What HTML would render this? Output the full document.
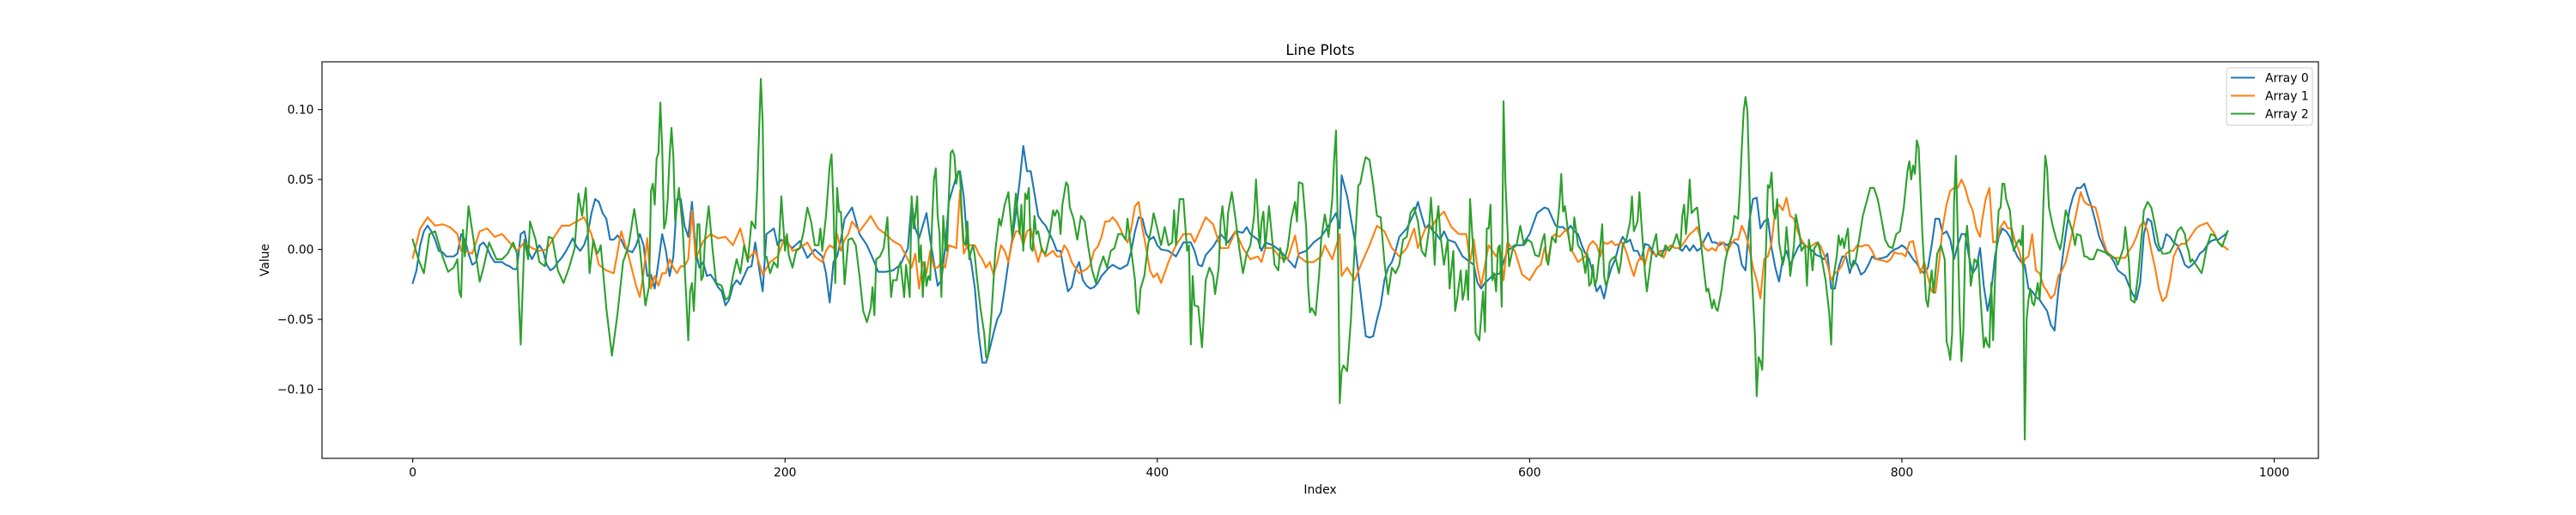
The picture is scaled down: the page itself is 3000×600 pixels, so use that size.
<!DOCTYPE html>
<html><head><meta charset="utf-8"><style>
html,body{margin:0;padding:0;background:#fff;}
svg{display:block;}
text{font-family:"DejaVu Sans","Liberation Sans",sans-serif;fill:#000;}
</style></head><body>
<svg id="chart" width="3000" height="600" viewBox="0 0 3000 600" xmlns="http://www.w3.org/2000/svg">
<rect x="0" y="0" width="3000" height="600" fill="#fff"/>
<text x="1537.5" y="64" font-size="16.7" text-anchor="middle">Line Plots</text>
<g id="series"></g>
<rect x="375" y="72" width="2325" height="462" fill="none" stroke="#000" stroke-width="1.1"/>
<g id="xticks"></g>
<g id="yticks"></g>
<text x="1537.5" y="575" font-size="13.9" text-anchor="middle">Index</text>
<text x="0" y="0" font-size="13.9" text-anchor="middle" transform="translate(313,303) rotate(-90)">Value</text>
<g id="legend">
<rect x="2593" y="79" width="100" height="67" rx="3" fill="#fff" fill-opacity="0.8" stroke="#ccc" stroke-width="1"/>
<line x1="2598" y1="90.5" x2="2626" y2="90.5" stroke="#1f77b4" stroke-width="2.1"/>
<text x="2638" y="95.5" font-size="13.9">Array 0</text>
<line x1="2598" y1="111.5" x2="2626" y2="111.5" stroke="#ff7f0e" stroke-width="2.1"/>
<text x="2638" y="116.5" font-size="13.9">Array 1</text>
<line x1="2598" y1="132.5" x2="2626" y2="132.5" stroke="#2ca02c" stroke-width="2.1"/>
<text x="2638" y="137.5" font-size="13.9">Array 2</text>
</g>
</svg>
<script>
// values in units of 0.001
const xTicks = [0, 200, 400, 600, 800, 1000];
const yTicks = [-0.10, -0.05, 0.00, 0.05, 0.10];
const yTickLabels = ["−0.10", "−0.05", "0.00", "0.05", "0.10"];

const a0Idx = [0,2,4,6,8,10,12,14,16,18,20,22,24,26,28,30,32,34,36,38,40,42,44,46,48,50,52,54,56,58,60,62,64,66,68,70,72,74,76,78,80,82,84,86,88,90,92,94,96,98,100,102,104,106,108,110,112,114,116,118,120,122,124,126,128,130,132,134,136,138,140,142,144,146,148,150,152,154,156,158,160,162,164,166,168,170,172,174,176,178,180,182,184,186,188,190,192,194,196,198,
204,208,212,216,220,222,224,226,228,230,232,236,240,244,248,250,254,258,262,266,268,270,272,276,278,282,284,286,288,292,294,296,298,300,302,304,306,308,310,312,314,316,318,320,322,324,326,328,330,332,334,336,338,340,344,346,348,350,352,354,356,358,360,362,364,366,368,370,374,376,380,384,386,388,390,392,394,396,398,400,
402,406,410,414,418,420,422,424,426,430,434,438,442,446,448,450,454,456,458,462,466,470,474,476,480,484,488,492,496,498,499,502,506,508,510,512,514,516,518,520,522,524,526,528,530,534,538,540,542,544,546,548,550,552,554,556,560,564,568,570,572,574,576,580,584,588,592,596,600,604,
608,610,612,614,616,618,620,622,624,626,628,630,632,634,636,638,640,642,644,646,648,650,652,654,656,658,660,662,664,666,668,670,672,674,676,678,680,682,684,686,688,690,692,694,696,698,700,702,704,706,708,710,712,714,716,718,720,722,724,726,728,730,732,734,736,738,740,742,744,746,748,750,752,754,756,758,760,762,764,766,768,770,772,774,776,778,780,782,784,786,790,792,794,796,798,800,802,804,806,
808,810,812,814,816,818,820,822,824,826,828,830,832,834,836,838,840,842,844,846,848,850,852,854,856,858,860,862,864,866,868,870,872,874,876,878,880,882,884,886,888,890,892,894,896,898,900,902,904,906,908,910,912,914,916,918,920,922,924,926,928,930,932,934,936,938,940,942,944,946,948,950,952,954,956,958,960,962,964,966,968,970,972,974,975];
const a0Val = [-24,-15,3,13,17,13,7,-1,-2,-5,-5,-5,-3,11,7,-3,-11,-9,3,5,1,-5,-9,-9,-9,-11,-12,-14,-14,11,13,-1,-7,-2,3,-1,-11,-15,-13,-9,-6,-2,3,8,2,-1,3,11,26,36,34,26,22,7,7,10,7,1,-1,-2,3,11,3,-19,-18,-28,-9,11,-1,-19,-5,36,36,17,9,34,-1,-13,-9,-19,-18,-22,-27,-30,-40,-36,-26,-22,-25,-19,-13,-12,5,-13,-30,11,13,15,3,7,
1,6,-6,0,-5,-17,-38,-9,-5,7,22,30,11,3,-9,-16,-16,-15,-11,1,34,15,8,26,7,-26,-22,1,34,52,56,38,3,-9,-28,-60,-81,-81,-71,-60,-50,-45,-28,-9,7,26,48,74,56,56,40,24,20,17,6,-1,-1,-17,-30,-27,-15,-9,-22,-26,-28,-27,-24,-19,-13,-11,-14,-11,-1,13,23,22,11,7,9,3,
0,-1,-5,5,5,-1,-11,-12,-4,2,11,5,13,12,16,11,7,-1,5,3,-1,-7,-13,-3,-1,5,9,17,26,15,53,38,7,-17,-40,-62,-63,-62,-50,-40,-22,-13,-9,-1,9,15,26,34,24,15,18,13,11,7,13,7,5,-5,-9,-11,-24,-28,-24,-19,-17,-1,3,3,11,26,
30,29,23,17,16,16,13,17,13,11,3,-3,-7,-17,-30,-26,-35,-22,-13,-7,3,9,5,7,-1,-1,-7,4,3,-1,-5,-1,-1,1,3,1,1,-1,3,-1,3,-1,1,7,12,5,5,3,5,3,5,5,3,-11,-15,20,36,37,15,20,22,1,-13,-23,-7,-1,-11,-5,1,5,3,1,-1,-4,-5,-7,-3,-28,-28,-13,-5,-5,-17,-8,-11,-18,-16,-11,-5,-7,-6,-5,-2,0,1,3,1,-3,-7,
-10,-15,-17,-13,3,22,22,11,13,7,-7,3,11,11,-5,-17,-13,1,-26,-44,-30,-5,9,15,13,9,1,-5,-9,-11,-28,-30,-34,-36,-40,-44,-54,-58,-30,-9,11,28,38,44,44,47,38,30,20,9,3,-3,-5,-9,-15,-17,-19,-26,-32,-36,-24,11,22,20,5,-1,1,11,9,5,3,-3,-11,-13,-11,-8,-3,-1,3,6,7,7,9,11,13];

const a1Idx = [0,4,8,12,16,20,24,26,28,32,36,40,44,48,52,56,60,64,68,72,76,80,84,88,92,96,100,104,108,112,116,120,122,124,126,128,130,132,134,136,138,140,142,144,146,148,150,152,156,160,164,168,172,176,180,184,188,192,196,
200,204,208,212,216,220,222,224,226,228,230,232,234,236,240,244,246,250,254,258,262,266,268,270,272,274,276,278,280,282,284,286,288,292,294,296,298,302,304,306,308,310,312,314,316,318,320,322,324,326,328,330,332,334,336,338,340,344,346,348,350,352,354,356,358,362,364,366,368,370,372,374,376,378,380,382,384,386,388,390,392,394,396,398,400,
402,406,410,414,418,420,424,426,430,434,438,442,446,450,454,456,458,462,466,470,474,476,480,484,488,490,494,498,499,502,506,510,514,518,522,526,530,534,538,540,544,548,550,554,558,562,566,568,570,572,574,578,582,584,586,588,592,596,600,604,606,
608,610,612,614,616,620,622,626,628,630,632,634,636,638,640,642,644,646,648,650,652,654,656,658,660,662,664,666,668,670,672,674,676,678,680,682,684,686,688,690,692,694,696,698,700,702,704,706,708,710,712,714,716,718,720,722,724,726,728,730,732,734,736,738,740,742,744,746,748,750,752,754,756,758,760,762,764,766,768,770,772,774,776,778,780,782,784,786,790,792,794,796,798,800,802,804,806,
808,810,812,814,816,818,820,822,824,826,828,830,832,834,836,838,840,842,843,845,847,849,851,853,855,857,859,861,863,865,866,867,868,870,872,874,876,878,880,882,884,886,888,890,892,894,896,898,900,902,904,906,908,910,912,914,916,918,920,922,924,926,928,930,932,934,936,938,940,942,944,946,948,950,952,954,956,958,960,962,964,966,968,970,972,974,975];
const a1Val = [-6,15,23,17,18,16,11,-1,-1,-3,13,15,9,11,5,-1,5,1,-1,0,9,17,17,20,23,11,-11,-15,-17,13,-5,-26,-34,-17,8,-28,-19,-26,-17,-17,-7,-13,-17,-12,-12,-7,28,-7,6,11,8,9,3,15,-7,-1,-18,-9,-5,
9,-1,1,5,-5,-9,-1,3,1,11,-1,7,11,20,13,20,24,15,11,6,3,-7,-13,-3,-28,-9,-17,-1,-13,-13,-9,-13,3,1,42,-3,3,3,-3,-7,-13,-9,-18,-9,3,-1,-9,5,13,13,3,13,15,1,-9,1,-5,-1,-5,-5,3,-1,-9,-13,-17,-14,-11,-1,2,9,20,20,23,20,15,9,5,15,31,34,15,1,-15,-20,-17,
-24,-9,3,11,11,5,17,23,18,1,1,13,1,-7,-5,-9,1,1,-6,-7,10,-5,-9,-9,-5,3,-7,11,-19,-13,-22,-9,3,17,13,1,-5,1,15,1,15,17,22,27,16,11,11,-9,7,-13,-26,3,-5,1,-22,5,-1,-18,-22,-13,-11,
1,-7,9,11,9,15,1,-9,-7,-5,3,6,3,-5,5,4,6,3,4,5,-2,-11,-19,-9,-5,-11,1,-3,-4,-1,-6,1,3,1,1,3,7,11,13,16,7,1,-1,1,-1,5,5,-2,3,7,7,17,11,1,-13,-22,-35,-7,-5,5,28,32,28,37,24,22,13,7,3,1,3,5,3,-3,-11,-22,-17,-15,-11,-3,-1,-1,3,2,3,3,-1,-7,-8,-9,-7,-2,-3,-3,-5,5,6,-7,-17,
-9,-20,-30,-31,-9,17,32,42,44,44,50,44,34,28,15,9,20,36,44,5,6,16,20,15,15,5,-1,-12,-7,-6,-5,11,-15,-17,-26,-30,-35,-32,-19,-15,-9,3,15,28,41,34,32,31,30,20,7,-1,-5,-6,-6,-6,-6,-1,3,9,17,20,13,-1,-13,-28,-37,-34,-22,-5,1,4,4,7,11,15,17,18,19,15,11,5,3,1,0,2,4];

const a2Idx = [0,3,6,9,12,16,19,22,24,25,26,27,28,30,32,36,38,41,45,48,51,54,56,58,60,62,63,66,68,71,73,75,78,81,84,87,89,91,93,95,97,99,100,101,104,107,110,113,116,119,122,125,127,128,129,130,131,132,133,134,135,136,137,138,139,140,141,142,143,145,147,148,149,150,151,152,153,154,155,156,157,159,161,163,166,168,170,172,174,176,178,180,182,184,185,186,187,188,189,190,192,194,196,197,198,
200,201,202,204,206,208,210,212,214,216,218,219,220,222,224,225,226,227,228,229,230,231,232,234,236,238,240,242,244,246,247,248,249,251,253,255,256,257,258,260,261,262,264,265,266,267,268,269,270,271,272,273,274,275,276,277,278,279,280,281,282,283,284,285,286,287,288,289,290,291,292,293,294,295,296,297,298,299,300,301,302,303,305,307,308,309,311,313,315,316,318,320,322,324,326,327,328,329,330,331,332,333,334,335,336,338,340,342,344,345,346,347,348,349,351,352,353,355,357,359,361,363,365,367,369,371,373,375,377,379,381,383,384,386,388,389,390,391,393,395,397,398,400,
402,404,406,408,409,410,412,414,416,417,418,419,420,422,424,426,428,430,431,433,434,435,437,438,440,442,444,446,448,450,452,453,455,456,457,458,460,463,465,466,468,470,472,474,475,476,478,480,481,482,483,485,487,488,490,492,494,495,496,497,498,499,500,502,504,506,508,509,511,512,514,516,518,520,522,524,526,528,530,532,534,536,538,540,542,544,546,547,548,549,550,551,552,554,556,557,559,560,561,563,564,565,566,567,568,570,571,573,575,576,577,578,579,580,581,582,583,584,585,586,587,589,591,593,595,597,599,601,603,
605,607,608,609,610,612,614,616,617,618,619,620,622,623,624,626,628,630,631,632,633,634,635,636,638,639,640,641,642,643,644,646,648,649,650,652,654,655,656,658,659,660,662,663,665,666,668,669,671,673,675,677,679,681,682,683,684,685,686,687,689,690,692,694,695,696,698,699,700,701,703,705,707,709,710,712,713,714,715,716,717,718,719,721,722,723,724,725,726,727,728,729,730,731,732,733,734,736,737,738,739,740,741,742,743,745,746,748,749,750,751,752,753,755,757,759,761,762,763,765,766,767,768,769,770,771,772,773,775,777,779,781,783,785,787,789,791,793,795,797,799,801,803,804,805,806,
807,808,809,811,813,814,815,816,817,819,821,823,824,825,826,827,828,829,830,831,832,833,834,835,836,837,838,839,840,841,842,843,844,845,846,847,848,849,850,851,852,853,854,855,856,857,858,859,860,862,863,864,865,866,867,868,869,870,871,872,873,874,875,876,877,878,879,881,883,885,886,888,890,892,893,894,896,898,899,901,903,905,907,909,911,913,915,916,917,919,920,922,923,925,927,929,930,932,934,936,938,940,942,944,946,948,950,952,953,954,955,956,957,958,960,961,962,964,966,968,970,972,975];
const a2Val = [7,-7,-17,11,13,-5,-16,-13,-7,-30,-34,14,-5,31,13,-23,-13,5,-7,-7,-3,5,-3,-68,7,-7,20,7,-9,-12,9,8,-15,-24,-13,1,40,24,44,-17,7,-3,-1,3,-42,-76,-46,-9,3,29,1,-40,-26,42,47,32,65,69,105,73,15,20,36,67,87,67,20,32,44,15,-36,-65,-30,-24,-44,-15,18,18,-22,-19,7,31,1,-24,-26,-36,-34,-19,-7,-17,3,-9,20,15,42,82,122,91,-5,-5,-17,-9,-13,11,38,
-1,11,-4,-13,-1,1,13,30,20,3,3,15,-1,24,60,68,32,-24,44,27,27,3,-25,7,8,3,-19,-44,-52,-42,-27,-47,-7,-5,1,23,-9,-34,-22,-22,-13,-9,-34,-11,-22,-34,38,15,24,38,-9,3,-34,-9,-26,-19,-22,20,50,58,24,11,-34,24,3,-1,38,69,71,67,47,56,54,24,5,3,20,-7,-1,3,-5,-19,-42,-60,-77,-77,-44,-1,22,17,32,41,9,40,11,32,-1,40,36,44,1,-1,24,11,13,-1,-3,9,28,24,28,26,11,32,48,46,30,22,7,24,20,1,-15,-24,-13,-5,-13,-1,1,11,11,7,22,-1,-22,-44,-46,-28,-19,3,17,26,15,3,
16,3,5,28,3,36,36,-1,3,-68,-19,-40,-41,-70,-22,-13,-19,-32,-13,20,31,3,26,41,22,1,-17,-3,3,24,50,1,20,27,1,31,-11,-15,1,-9,1,22,34,20,48,47,15,-26,-45,-42,-47,-17,7,25,9,36,65,85,11,-110,-87,-83,-87,-50,1,46,47,61,66,64,46,24,23,-9,-32,-13,-17,-11,7,9,26,30,20,-1,-5,15,37,17,-11,20,31,11,-11,7,-28,-1,-44,-36,-15,-36,-30,-15,-36,36,-7,-60,-65,-30,-59,15,15,32,-22,-17,-30,1,3,-41,106,48,-12,1,3,17,3,7,5,-4,-5,
7,11,-7,-11,9,5,32,54,27,31,20,-1,0,23,3,-1,-17,-3,-26,-24,-11,-26,-22,3,18,-19,-26,-22,-9,-7,-5,-17,-9,3,7,20,38,13,20,41,20,-17,-30,-9,1,11,-3,-5,3,-1,3,11,1,24,32,11,27,50,26,29,30,5,-19,-30,-28,-42,-36,-42,-44,-30,-9,3,11,24,22,44,73,99,109,99,52,-9,-60,-105,-77,-80,-86,-40,1,46,44,55,27,22,36,5,-11,-5,16,1,-19,-9,3,25,11,-1,3,-26,7,-1,-15,1,5,-7,-22,-46,-68,-22,-5,10,3,8,1,9,15,-9,-13,-9,7,24,34,44,44,36,22,7,2,1,11,13,30,56,63,50,60,
54,78,73,11,-36,-41,-26,-15,-31,-3,3,-7,-66,-71,-79,-60,32,67,11,-44,-80,-59,1,17,1,-26,-17,-7,-9,-7,-30,-50,-70,-63,-68,-70,-24,-65,-22,7,28,30,47,47,36,32,28,13,-1,5,7,3,17,-136,-50,-36,-28,-38,-40,-32,-24,-36,-13,32,67,58,30,17,7,0,7,28,20,11,3,11,10,-5,-5,-7,-7,0,-1,-2,-3,-5,-7,-11,-7,1,16,-9,-36,-38,-17,13,28,34,30,17,3,-3,-3,-2,3,13,16,11,3,-1,-9,-7,-9,-11,-15,-17,-11,3,11,10,5,2,13];

const SVGNS = "http://www.w3.org/2000/svg";
const plot = {left:375, right:2700, top:72, bottom:534};
const xMin = -48.75, xMax = 1023.75, yMin = -0.1494, yMax = 0.1342;
function xScale(i){ return plot.left + (i - xMin) / (xMax - xMin) * (plot.right - plot.left); }
function yScale(v){ return plot.bottom - (v - yMin) / (yMax - yMin) * (plot.bottom - plot.top); }

const seriesG = document.getElementById('series');
function drawSeries(idx, vals, color, name){
  let d = '';
  for (let k = 0; k < idx.length && k < vals.length; k++){
    d += (k ? 'L' : 'M') + xScale(idx[k]).toFixed(2) + ' ' + yScale(vals[k] / 1000).toFixed(2);
  }
  const p = document.createElementNS(SVGNS, 'path');
  p.setAttribute('d', d);
  p.setAttribute('fill', 'none');
  p.setAttribute('stroke', color);
  p.setAttribute('stroke-width', '2.1');
  p.setAttribute('stroke-linejoin', 'round');
  p.setAttribute('stroke-linecap', 'square');
  
  
  seriesG.appendChild(p);
}
drawSeries(a0Idx, a0Val, '#1f77b4', 'line-array-0');
drawSeries(a1Idx, a1Val, '#ff7f0e', 'line-array-1');
drawSeries(a2Idx, a2Val, '#2ca02c', 'line-array-2');

const xg = document.getElementById('xticks');
xTicks.forEach(t => {
  const x = xScale(t);
  const l = document.createElementNS(SVGNS, 'line');
  l.setAttribute('x1', x); l.setAttribute('x2', x);
  l.setAttribute('y1', plot.bottom); l.setAttribute('y2', plot.bottom + 4.9);
  l.setAttribute('stroke', '#000'); l.setAttribute('stroke-width', '1.1');
  
  
  xg.appendChild(l);
  const tx = document.createElementNS(SVGNS, 'text');
  tx.setAttribute('x', x); tx.setAttribute('y', 555);
  tx.setAttribute('font-size', '13.9'); tx.setAttribute('text-anchor', 'middle');
  tx.textContent = String(t);
  
  
  xg.appendChild(tx);
});
const yg = document.getElementById('yticks');
yTicks.forEach((t, k) => {
  const y = yScale(t);
  const l = document.createElementNS(SVGNS, 'line');
  l.setAttribute('x1', plot.left - 4.9); l.setAttribute('x2', plot.left);
  l.setAttribute('y1', y); l.setAttribute('y2', y);
  l.setAttribute('stroke', '#000'); l.setAttribute('stroke-width', '1.1');
  
  
  yg.appendChild(l);
  const tx = document.createElementNS(SVGNS, 'text');
  tx.setAttribute('x', plot.left - 9.5); tx.setAttribute('y', y + 5);
  tx.setAttribute('font-size', '13.9'); tx.setAttribute('text-anchor', 'end');
  tx.textContent = yTickLabels[k];
  
  
  yg.appendChild(tx);
});
</script>
</body></html>
